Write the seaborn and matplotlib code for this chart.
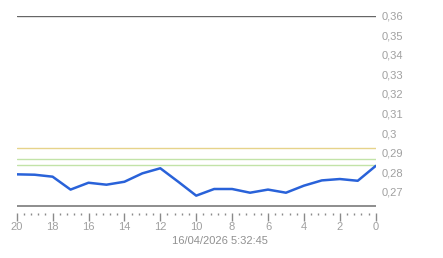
import matplotlib
matplotlib.use("Agg")
import matplotlib.pyplot as plt
import seaborn as sns
import pandas as pd
from matplotlib.ticker import FixedLocator, MultipleLocator, FuncFormatter

# Data
x_values = [20, 19, 18, 17, 16, 15, 14, 13, 12, 11, 10, 9, 8, 7, 6, 5, 4, 3, 2, 1, 0]
y_values = [0.2789, 0.2787, 0.2777, 0.2711, 0.2746, 0.2736, 0.2751, 0.2794, 0.2820, 0.2751,
            0.2680, 0.2714, 0.2714, 0.2695, 0.2711, 0.2695, 0.2731, 0.2758, 0.2765, 0.2756, 0.2832]
yellow_level = 0.2922
green_levels = [0.2866, 0.2835]
y_ticks = [0.27, 0.28, 0.29, 0.30, 0.31, 0.32, 0.33, 0.34, 0.35, 0.36]
x_ticks = [20, 18, 16, 14, 12, 10, 8, 6, 4, 2, 0]
date_label = "16/04/2026 5:32:45"

sns.set_style("white")
plt.rcParams['font.family'] = ['Liberation Sans', 'DejaVu Sans']

fig = plt.figure(figsize=(4.43, 2.58), dpi=100)
W, H = 443, 258
left_px, right_px = 16.7, 375.7
top_px, bot_px = 15.7, 212.5
ax = fig.add_axes([left_px / W, 1 - bot_px / H, (right_px - left_px) / W, (bot_px - top_px) / H])

df = pd.DataFrame({"x": x_values, "y": y_values})

ax.axhline(yellow_level, color="#e6d38a", lw=1.0, zorder=1)
for g in green_levels:
    ax.axhline(g, color="#c2e3a8", lw=1.0, zorder=1)
ax.axhline(0.36, color="#666666", lw=1.0, zorder=1)
ax.axhline(0.2628, color="#7a7a7a", lw=1.2, zorder=1)

sns.lineplot(data=df, x="x", y="y", ax=ax, color="#2962d9", lw=1.8, zorder=3)

ax.set_xlim(20, 0)
ax.set_ylim(0.36 - (bot_px - top_px) / 1956.0, 0.36)

for s in ax.spines.values():
    s.set_visible(False)

ax.yaxis.tick_right()
ax.set_yticks(y_ticks)
ax.yaxis.set_major_formatter(FuncFormatter(lambda v, p: ("%g" % round(v, 2)).replace(".", ",")))
ax.tick_params(axis="y", length=0, pad=4, labelsize=8, labelcolor="#a0a0a0")

ax.xaxis.set_major_locator(FixedLocator(x_ticks))
ax.xaxis.set_minor_locator(MultipleLocator(0.4))
ax.tick_params(axis="x", which="both", bottom=True)
ax.tick_params(axis="x", which="major", length=6, width=1, color="#8a8a8a",
               labelsize=8, labelcolor="#a0a0a0", pad=1)
ax.tick_params(axis="x", which="minor", length=1.5, width=1, color="#8a8a8a")
ax.set_xlabel("")
ax.set_ylabel("")

fig.text(220 / W, 1 - 241 / H, date_label, ha="center", va="center", fontsize=8, color="#909090")

fig.savefig("out.png", dpi=100, facecolor="white")
